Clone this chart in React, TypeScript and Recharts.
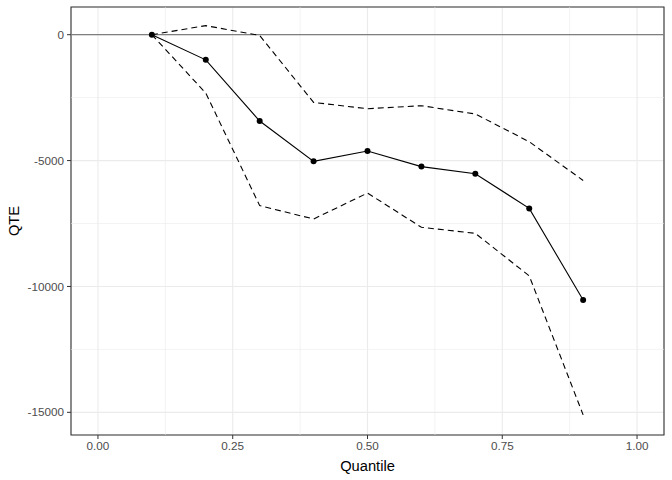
import React from "react";
import {
  CartesianGrid,
  ComposedChart,
  Label,
  Line,
  ReferenceArea,
  ReferenceLine,
  XAxis,
  YAxis,
} from "recharts";

const quantiles = [0.1, 0.2, 0.3, 0.4, 0.5, 0.6, 0.7, 0.8, 0.9];
const qte = [0, -1000, -3430, -5030, -4620, -5240, -5520, -6900, -10540];
const upper = [0, 360, -30, -2690, -2940, -2820, -3150, -4250, -5790];
const lower = [0, -2320, -6790, -7320, -6290, -7650, -7890, -9580, -15100];

const xTicks = [0, 0.25, 0.5, 0.75, 1];
const xMinor = [0.125, 0.375, 0.625, 0.875];
const yTicks = [-15000, -10000, -5000, 0];
const yMinor = [-12500, -7500, -2500];

const X_DOMAIN: [number, number] = [-0.05, 1.05];
const Y_DOMAIN: [number, number] = [-15900, 1100];

const FONT = "'Liberation Sans', Arial, sans-serif";
const GRID = "#ebebeb";

const data = quantiles.map((q, i) => ({ q, qte: qte[i], upper: upper[i], lower: lower[i] }));

const fmtX = (v: number) => v.toFixed(2);

export default function App() {
  return (
    <div style={{ position: "absolute", left: 0, top: 0, background: "#fff" }}>
      <ComposedChart
        width={672}
        height={480}
        data={data}
        margin={{ top: 7, right: 8, left: 0, bottom: 0 }}
        style={{ fontFamily: FONT }}
      >
        <CartesianGrid stroke={GRID} strokeWidth={1.1} />
        {xMinor.map((x) => (
          <ReferenceLine key={`xm${x}`} x={x} stroke={GRID} strokeWidth={0.6} />
        ))}
        {yMinor.map((y) => (
          <ReferenceLine key={`ym${y}`} y={y} stroke={GRID} strokeWidth={0.6} />
        ))}
        <XAxis
          type="number"
          dataKey="q"
          domain={X_DOMAIN}
          ticks={xTicks}
          tickFormatter={fmtX}
          allowDataOverflow
          height={45}
          axisLine={false}
          tickSize={4}
          tickMargin={3}
          tickLine={{ stroke: "#333333" }}
          tick={{ fill: "#4d4d4d", fontSize: 11.7 }}
        >
          <Label
            content={({ viewBox }: any) => (
              <text
                x={viewBox.x + viewBox.width / 2}
                y={viewBox.y + 36}
                textAnchor="middle"
                fontSize={14.7}
                fill="#000"
              >
                Quantile
              </text>
            )}
          />
        </XAxis>
        <YAxis
          type="number"
          domain={Y_DOMAIN}
          ticks={yTicks}
          allowDataOverflow
          width={71}
          axisLine={false}
          tickSize={4}
          tickMargin={3}
          tickLine={{ stroke: "#333333" }}
          tick={{ fill: "#4d4d4d", fontSize: 11.7 }}
        >
          <Label
            content={({ viewBox }: any) => {
              const cx = 19;
              const cy = viewBox.y + viewBox.height / 2;
              return (
                <text
                  x={cx}
                  y={cy}
                  transform={`rotate(-90 ${cx} ${cy})`}
                  textAnchor="middle"
                  fontSize={14.7}
                  fill="#000"
                >
                  QTE
                </text>
              );
            }}
          />
        </YAxis>
        <ReferenceLine y={0} stroke="#7f7f7f" strokeWidth={1.3} />
        <Line
          dataKey="upper"
          stroke="#000"
          strokeWidth={1.1}
          strokeDasharray="6 4"
          dot={false}
          isAnimationActive={false}
        />
        <Line
          dataKey="lower"
          stroke="#000"
          strokeWidth={1.1}
          strokeDasharray="6 4"
          dot={false}
          isAnimationActive={false}
        />
        <Line
          dataKey="qte"
          stroke="#000"
          strokeWidth={1.1}
          dot={{ r: 3, fill: "#000", stroke: "none" }}
          isAnimationActive={false}
        />
        <ReferenceArea
          x1={X_DOMAIN[0]}
          x2={X_DOMAIN[1]}
          y1={Y_DOMAIN[0]}
          y2={Y_DOMAIN[1]}
          fill="none"
          stroke="#333333"
          strokeWidth={1.1}
          ifOverflow="visible"
        />
      </ComposedChart>
    </div>
  );
}
